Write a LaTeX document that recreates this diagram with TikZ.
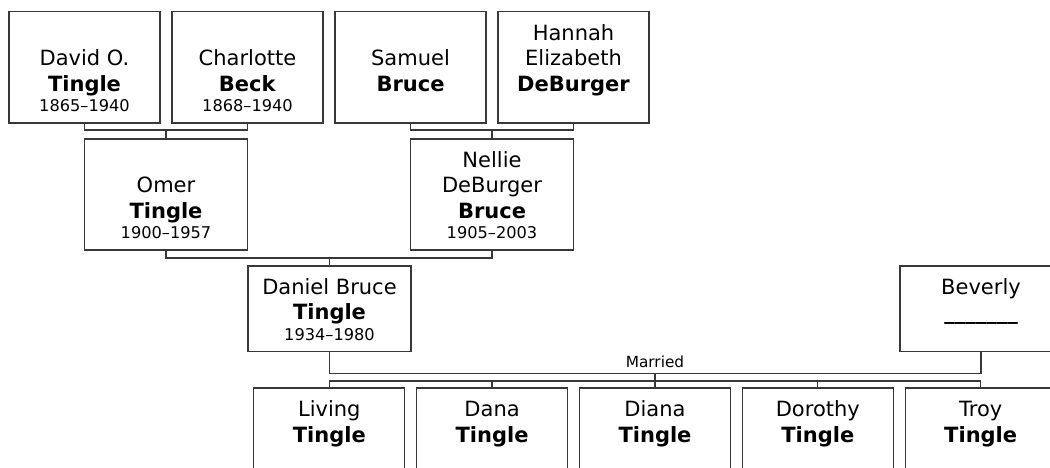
\documentclass[tikz,border=0pt]{standalone}
\usepackage{fontspec}
\setmainfont{DejaVu Sans}
\usetikzlibrary{calc}
\tikzset{
  conn/.style={draw=black!78, line width=1.3pt},
  pbox/.style={draw=black!78, line width=1.3pt, inner sep=0pt, outer sep=0pt, fill=white},
  lbl/.style={inner sep=0pt, font=\fontsize{15.3}{18}\selectfont, anchor=base}
}
\newcommand\pcard[4]{\vbox to #2{\hsize=#1\relax\parskip=0pt\vss\centering
  \fontsize{21}{25.5}\selectfont\noindent #3\par
  {\fontsize{16.2}{20.5}\selectfont\noindent\strut #4\par}\kern5.3pt}}
\begin{document}
\begin{tikzpicture}[x=1pt,y=-1pt]
\useasboundingbox (0,0) rectangle (1050,468);
\clip (0,0) rectangle (1050,468);
% generation 1
\node[pbox] (david) at (84.5,67.25) {\pcard{151pt}{111.5pt}{David O.\\\textbf{Tingle}}{1865–1940}};
\node[pbox] (charlotte) at (247.5,67.25) {\pcard{151pt}{111.5pt}{Charlotte\\\textbf{Beck}}{1868–1940}};
\node[pbox] (samuel) at (410.5,67.25) {\pcard{151pt}{111.5pt}{Samuel\\\textbf{Bruce}}{}};
\node[pbox] (hannah) at (573.5,67.25) {\pcard{151pt}{111.5pt}{Hannah\\Elizabeth\\\textbf{DeBurger}}{}};
% generation 2
\node[pbox] (omer) at (166,194.5) {\pcard{163pt}{111pt}{Omer\\\textbf{Tingle}}{1900–1957}};
\node[pbox] (nellie) at (492,194.5) {\pcard{163pt}{111pt}{Nellie\\DeBurger\\\textbf{Bruce}}{1905–2003}};
% generation 3
\node[pbox] (daniel) at (329.5,308.75) {\pcard{163pt}{85.5pt}{Daniel Bruce\\\textbf{Tingle}}{1934–1980}};
\node[pbox] (beverly) at (981,308.75) {\pcard{162pt}{85.5pt}{Beverly\\\textbf{\_\_\_\_\_\_\_}}{}};
% children
\node[pbox] (living) at (329.3,431) {\pcard{151pt}{86pt}{Living\\\textbf{Tingle}}{}};
\node[pbox] (dana) at (492.1,431) {\pcard{151pt}{86pt}{Dana\\\textbf{Tingle}}{}};
\node[pbox] (diana) at (655,431) {\pcard{151pt}{86pt}{Diana\\\textbf{Tingle}}{}};
\node[pbox] (dorothy) at (817.8,431) {\pcard{151pt}{86pt}{Dorothy\\\textbf{Tingle}}{}};
\node[pbox] (troy) at (980.7,431) {\pcard{151pt}{86pt}{Troy\\\textbf{Tingle}}{}};
% junctions
\coordinate (j1) at (166,130);
\coordinate (j2) at (492,130);
\coordinate (j3) at (329.5,258);
\coordinate (jm) at (655,373.5);
\coordinate (jc) at (655,381);
% connectors
\draw[conn] (david.south) |- (j1) -| (charlotte.south);
\draw[conn] (j1) -- (omer.north);
\draw[conn] (samuel.south) |- (j2) -| (hannah.south);
\draw[conn] (j2) -- (nellie.north);
\draw[conn] (omer.south) |- (j3) -| (nellie.south);
\draw[conn] (j3) -- (daniel.north);
\draw[conn] (daniel.south) |- (jm) -| (beverly.south);
\node[lbl] (married) at (655,367.7) {Married};
\draw[conn] (jm) -- (jc);
\draw[conn] (living.north) |- (jc) -| (troy.north);
\draw[conn] (dana.north) -- (dana.north |- jc);
\draw[conn] (jc) -- (diana.north);
\draw[conn] (dorothy.north) -- (dorothy.north |- jc);
\end{tikzpicture}
\end{document}
